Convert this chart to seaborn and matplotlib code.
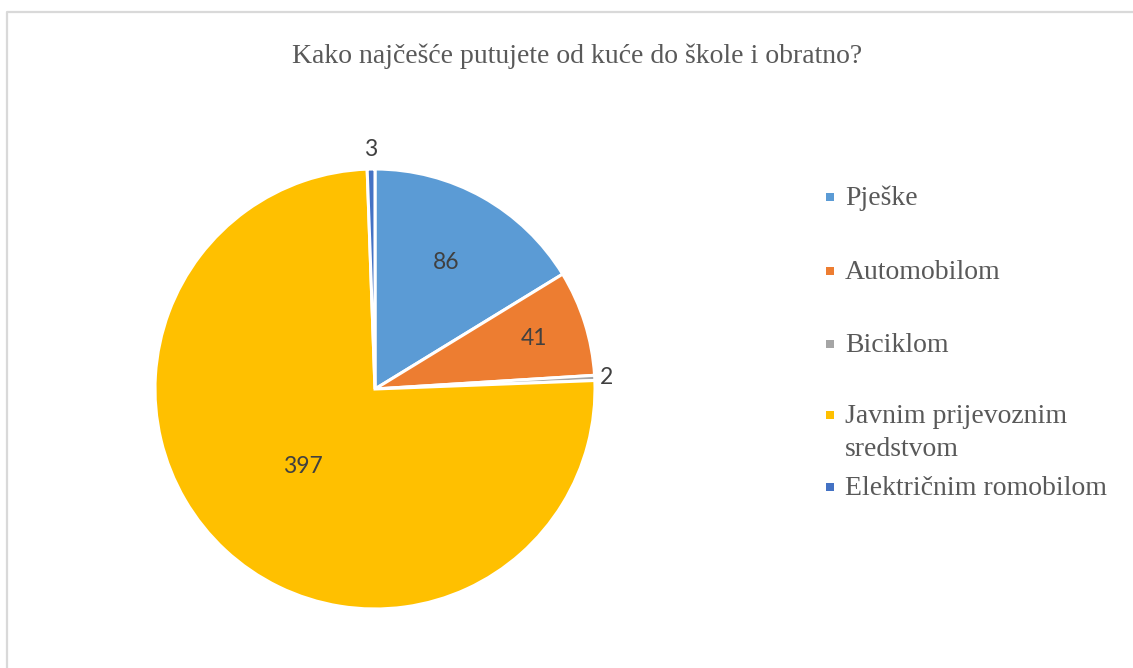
import numpy as np
import matplotlib
matplotlib.use("Agg")
import matplotlib.pyplot as plt
import seaborn as sns
from matplotlib.patches import Rectangle
from matplotlib.lines import Line2D

# podaci sa grafikona
categories = ["Pješke", "Automobilom", "Biciklom",
              "Javnim prijevoznim sredstvom", "Električnim romobilom"]
counts = [86, 41, 2, 397, 3]
title = "Kako najčešće putujete od kuće do škole i obratno?"

# stil
colors = sns.color_palette(["#5B9BD5", "#ED7D31", "#A5A5A5", "#FFC000", "#4472C4"])
label_radius = [0.66, 0.76, 1.055, 0.48, 1.09]
legend_baseline_px = [205, 279, 352, 423, 495]
legend_text = ["Pješke", "Automobilom", "Biciklom",
               "Javnim prijevoznim\nsredstvom", "Električnim romobilom"]

sns.set_theme(style="white")
plt.rcParams["font.family"] = ["Liberation Serif", "DejaVu Serif"]

W, H = 1133, 668
fig = plt.figure(figsize=(W / 100, H / 100), dpi=100)
fig.patch.set_facecolor("white")

def fx(px):
    return px / W

def fy(py):
    return 1 - py / H

# okvir grafikona (vidi se samo gornja i lijeva ivica)
fig.lines.append(Line2D([fx(7), fx(7), 1.01], [-0.01, fy(12), fy(12)],
                        transform=fig.transFigure, color="#D9D9D9", linewidth=1.6))

# pita
cx, cy, r = 375, 389, 220
ax = fig.add_axes([fx(cx - r), fy(cy + r), 2 * r / W, 2 * r / H])
wedges, _ = ax.pie(counts, colors=colors, startangle=90, counterclock=False,
                   wedgeprops=dict(edgecolor="white", linewidth=2.2))
ax.set_xlim(-1, 1)
ax.set_ylim(-1, 1)
ax.set_aspect("auto")
ax.axis("off")

for w, val, rad in zip(wedges, counts, label_radius):
    ang = np.deg2rad((w.theta1 + w.theta2) / 2)
    ax.text(rad * np.cos(ang), rad * np.sin(ang), str(val),
            ha="center", va="center", fontsize=16.5, color="#404040",
            family=["Lato", "DejaVu Sans"], clip_on=False)

# naslov
fig.text(fx(577), fy(63), title, ha="center", va="baseline",
         fontsize=20, color="#595959")

# legenda
for txt, col, base in zip(legend_text, colors, legend_baseline_px):
    fig.patches.append(Rectangle((fx(826), fy(base - 4)), 8 / W, 8 / H,
                                 transform=fig.transFigure, facecolor=col,
                                 edgecolor="none"))
    for i, line in enumerate(txt.split("\n")):
        fig.text(fx(845), fy(base + 33 * i), line, ha="left", va="baseline",
                 fontsize=20, color="#595959")

fig.savefig("out.png", dpi=100, facecolor="white")
